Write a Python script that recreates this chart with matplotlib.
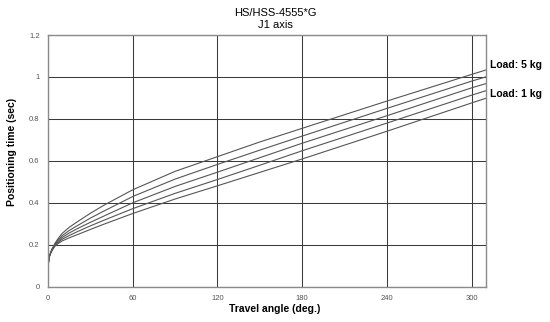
import matplotlib
matplotlib.use("Agg")
import matplotlib.pyplot as plt

plt.rcParams['font.family'] = ['Liberation Sans', 'DejaVu Sans']

angle = [0, 1, 2, 3, 5, 7, 10, 15, 20, 30, 40, 60, 90, 120, 150, 180, 240, 300, 310]
load_5kg = [0.10, 0.145, 0.166, 0.182, 0.207, 0.228, 0.254, 0.283, 0.306, 0.350, 0.390, 0.462, 0.550, 0.620, 0.690, 0.755, 0.885, 1.012, 1.033]
load_4kg = [0.10, 0.145, 0.165, 0.180, 0.203, 0.221, 0.243, 0.268, 0.288, 0.327, 0.362, 0.430, 0.513, 0.583, 0.651, 0.718, 0.850, 0.980, 1.000]
load_3kg = [0.10, 0.144, 0.164, 0.178, 0.200, 0.215, 0.234, 0.256, 0.274, 0.307, 0.338, 0.400, 0.478, 0.546, 0.615, 0.684, 0.815, 0.948, 0.968]
load_2kg = [0.10, 0.144, 0.163, 0.176, 0.197, 0.210, 0.226, 0.244, 0.260, 0.290, 0.318, 0.372, 0.445, 0.511, 0.579, 0.648, 0.780, 0.913, 0.934]
load_1kg = [0.10, 0.143, 0.162, 0.174, 0.194, 0.205, 0.218, 0.233, 0.246, 0.273, 0.299, 0.349, 0.418, 0.481, 0.545, 0.609, 0.741, 0.876, 0.898]
series = [load_5kg, load_4kg, load_3kg, load_2kg, load_1kg]

xticks = [0, 60, 120, 180, 240, 300]
yticks = [0, 0.2, 0.4, 0.6, 0.8, 1.0, 1.2]
ytick_labels = ["0", "0.2", "0.4", "0.6", "0.8", "1", "1.2"]

fig = plt.figure(figsize=(5.5, 3.22), dpi=100)
ax = fig.add_axes([48/550, 1-286.7/322, (485.7-48)/550, (286.7-35)/322])

for s in series:
    ax.plot(angle, s, color='#555555', lw=0.8)

ax.set_xlim(0, 310)
ax.set_ylim(0, 1.2)
ax.set_xticks(xticks)
ax.set_yticks(yticks)
ax.set_yticklabels(ytick_labels)
ax.tick_params(length=0, labelsize=5.5, labelcolor='#555555', pad=6)
ax.grid(True, color='#3a3a3a', lw=0.75)
ax.set_axisbelow(True)
for sp in ax.spines.values():
    sp.set_color('#8a8a8a')
    sp.set_linewidth(1.0)

fig.text(275/550, 1-13/322, "HS/HSS-4555*G", ha='center', va='center', fontsize=8)
fig.text(275/550, 1-25/322, "J1 axis", ha='center', va='center', fontsize=8)
fig.text(275/550, 1-309/322, "Travel angle (deg.)", ha='center', va='center', fontsize=7.5, fontweight='bold')
fig.text(12/550, 1-152/322, "Positioning time (sec)", ha='center', va='center', rotation=90, fontsize=7.5, fontweight='bold')
fig.text(490/550, 1-65/322, "Load: 5 kg", ha='left', va='center', fontsize=7.5, fontweight='bold')
fig.text(490/550, 1-94/322, "Load: 1 kg", ha='left', va='center', fontsize=7.5, fontweight='bold')

fig.savefig("out.png", dpi=100)
